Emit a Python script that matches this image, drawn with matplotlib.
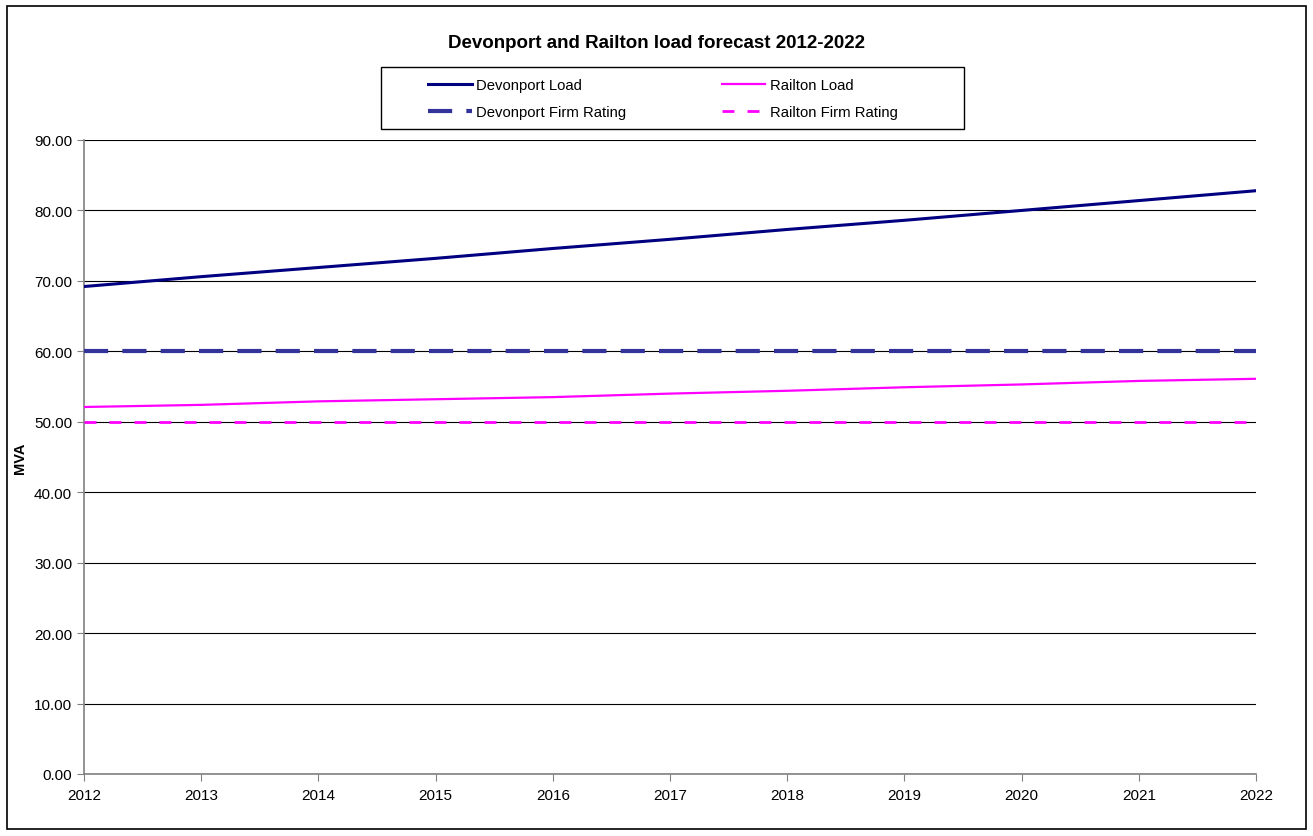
import matplotlib.pyplot as plt
from matplotlib.patches import Rectangle
from matplotlib.ticker import FormatStrFormatter

# load forecast, MVA
years = [2012, 2013, 2014, 2015, 2016, 2017, 2018, 2019, 2020, 2021, 2022]
devonport_load = [69.2, 70.6, 71.9, 73.2, 74.6, 75.9, 77.3, 78.6, 80.0, 81.4, 82.8]
railton_load = [52.1, 52.4, 52.9, 53.2, 53.5, 54.0, 54.4, 54.9, 55.3, 55.8, 56.1]
devonport_firm = [60.0] * len(years)
railton_firm = [50.0] * len(years)

plt.rcParams.update({
    "font.family": ["Liberation Sans", "DejaVu Sans"],
    "font.size": 11,
})

W, H = 1313, 837
fig = plt.figure(figsize=(W / 100, H / 100), dpi=100)
ax = fig.add_axes([84 / W, 1 - 775 / H, (1256 - 84) / W, (775 - 141) / H])

# outer frame around the whole chart
fig.patches.append(Rectangle((7 / W, 7 / H), 1299 / W, 823 / H,
                             transform=fig.transFigure, fill=False,
                             edgecolor="black", linewidth=1.2))

ax.plot(years, devonport_firm, color="#333399", linewidth=3,
        dashes=(5.8, 3.4), label="Devonport Firm Rating", zorder=3)
ax.plot(years, railton_firm, color="#FF00FF", linewidth=2,
        dashes=(4.3, 4.7), label="Railton Firm Rating", zorder=3)
ax.plot(years, devonport_load, color="#000080", linewidth=2.2,
        label="Devonport Load", zorder=4)
ax.plot(years, railton_load, color="#FF00FF", linewidth=1.6,
        label="Railton Load", zorder=4)

ax.set_xlim(2012, 2022)
ax.set_ylim(0, 90)
ax.set_xticks(years)
ax.set_yticks(range(0, 91, 10))
ax.yaxis.set_major_formatter(FormatStrFormatter("%.2f"))
ax.grid(axis="y", color="black", linewidth=0.8)
ax.set_axisbelow(True)

for side in ("top", "right"):
    ax.spines[side].set_visible(False)
for side in ("left", "bottom"):
    ax.spines[side].set_color("#808080")
    ax.spines[side].set_linewidth(1.2)
ax.tick_params(direction="out", length=5, color="#808080", labelsize=11)
ax.tick_params(axis="x", pad=5)

ax.set_ylabel("MVA", fontweight="bold", fontsize=10.5, labelpad=5)
fig.text(0.5, 1 - 43 / H, "Devonport and Railton load forecast 2012-2022",
         ha="center", va="center", fontweight="bold", fontsize=13.5)

# legend box drawn separately so its padding can differ from the entries
fig.patches.append(Rectangle((381 / W, 1 - 130 / H), (964 - 381) / W, 62 / H,
                             transform=fig.transFigure, fill=True,
                             facecolor="white", edgecolor="black",
                             linewidth=1, zorder=5))
h, l = ax.get_legend_handles_labels()
order = [2, 0, 3, 1]
leg = fig.legend([h[i] for i in order], [l[i] for i in order], ncol=2,
                 loc="upper left", bbox_to_anchor=(425 / W, 1 - 76 / H),
                 borderaxespad=0, frameon=False, fontsize=10.7,
                 handlelength=2.95, handletextpad=0.3, columnspacing=6.4,
                 borderpad=0.2, labelspacing=0.9)
leg.set_zorder(6)

fig.savefig("out.png", dpi=100)
